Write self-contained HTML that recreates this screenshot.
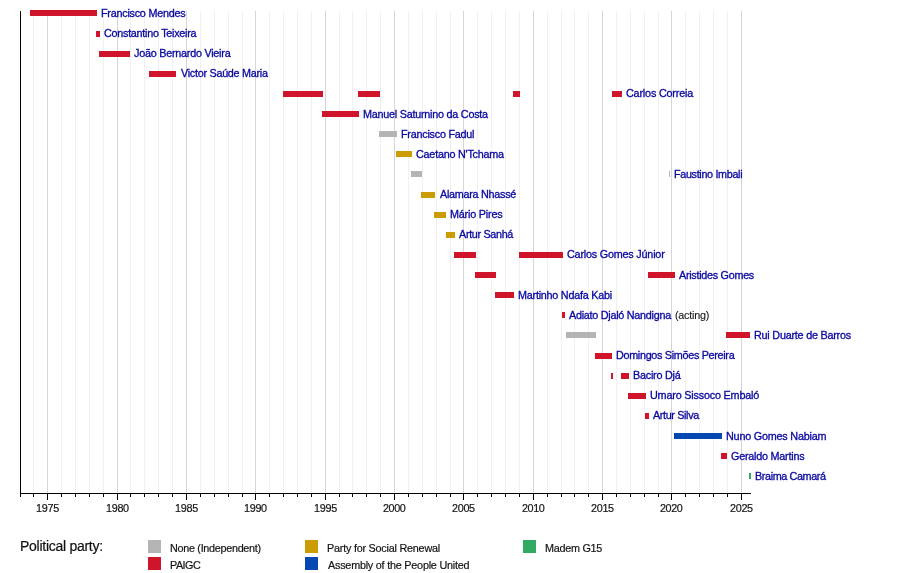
<!DOCTYPE html>
<html><head><meta charset="utf-8"><title>Timeline</title>
<style>
html,body{margin:0;padding:0;background:#fff;}
.t,.y,.l,.a{will-change:transform;}
body{width:900px;height:573px;position:relative;overflow:hidden;font-family:"Liberation Sans",sans-serif;}
.g{position:absolute;top:11px;height:482px;width:1px;background:#f0f0f0;}
.G{position:absolute;top:11px;height:482px;width:1px;background:#d6d6d6;}
.b{position:absolute;height:6px;}
.t{position:absolute;white-space:pre;font-size:10.8px;line-height:12px;height:12px;color:#0a08a0;-webkit-text-stroke:0.32px #0a08a0;}
.a{position:absolute;white-space:pre;font-size:10.8px;line-height:12px;height:12px;color:#141414;-webkit-text-stroke:0.1px #141414;}
.k{position:absolute;top:493px;width:1px;background:#000;}
.y{position:absolute;top:502px;white-space:pre;font-size:10.8px;line-height:12px;color:#141414;-webkit-text-stroke:0.2px #141414;}
.l{position:absolute;white-space:pre;font-size:10.8px;line-height:12px;color:#141414;-webkit-text-stroke:0.2px #141414;}
.s{position:absolute;width:13px;height:13px;}
</style></head><body>

<div class="g" style="left:33px"></div>
<div class="G" style="left:47px"></div>
<div class="g" style="left:61px"></div>
<div class="g" style="left:75px"></div>
<div class="g" style="left:89px"></div>
<div class="g" style="left:103px"></div>
<div class="G" style="left:117px"></div>
<div class="g" style="left:130px"></div>
<div class="g" style="left:144px"></div>
<div class="g" style="left:158px"></div>
<div class="g" style="left:172px"></div>
<div class="G" style="left:186px"></div>
<div class="g" style="left:200px"></div>
<div class="g" style="left:214px"></div>
<div class="g" style="left:228px"></div>
<div class="g" style="left:242px"></div>
<div class="G" style="left:255px"></div>
<div class="g" style="left:269px"></div>
<div class="g" style="left:283px"></div>
<div class="g" style="left:297px"></div>
<div class="g" style="left:311px"></div>
<div class="G" style="left:325px"></div>
<div class="g" style="left:339px"></div>
<div class="g" style="left:352px"></div>
<div class="g" style="left:366px"></div>
<div class="g" style="left:380px"></div>
<div class="G" style="left:394px"></div>
<div class="g" style="left:408px"></div>
<div class="g" style="left:422px"></div>
<div class="g" style="left:436px"></div>
<div class="g" style="left:450px"></div>
<div class="G" style="left:463px"></div>
<div class="g" style="left:477px"></div>
<div class="g" style="left:491px"></div>
<div class="g" style="left:505px"></div>
<div class="g" style="left:519px"></div>
<div class="G" style="left:533px"></div>
<div class="g" style="left:547px"></div>
<div class="g" style="left:561px"></div>
<div class="g" style="left:574px"></div>
<div class="g" style="left:588px"></div>
<div class="G" style="left:602px"></div>
<div class="g" style="left:616px"></div>
<div class="g" style="left:630px"></div>
<div class="g" style="left:644px"></div>
<div class="g" style="left:658px"></div>
<div class="G" style="left:671px"></div>
<div class="g" style="left:685px"></div>
<div class="g" style="left:699px"></div>
<div class="g" style="left:713px"></div>
<div class="g" style="left:727px"></div>
<div class="G" style="left:741px"></div>
<div class="b" style="left:30px;top:10px;width:67px;background:#cf142b"></div>
<div class="t" style="left:100.95px;top:7px;letter-spacing:-0.24px">Francisco Mendes</div>
<div class="b" style="left:96.2px;top:31px;width:3.8px;background:#cf142b"></div>
<div class="t" style="left:104.0px;top:27px;letter-spacing:-0.266px">Constantino Teixeira</div>
<div class="b" style="left:99px;top:51px;width:31px;background:#cf142b"></div>
<div class="t" style="left:133.75px;top:47px;letter-spacing:-0.242px">João Bernardo Vieira</div>
<div class="b" style="left:149px;top:71px;width:27px;background:#cf142b"></div>
<div class="t" style="left:180.7px;top:67px;letter-spacing:-0.274px">Victor Saúde Maria</div>
<div class="b" style="left:283px;top:91px;width:40px;background:#cf142b"></div>
<div class="b" style="left:358px;top:91px;width:22px;background:#cf142b"></div>
<div class="b" style="left:513px;top:91px;width:7px;background:#cf142b"></div>
<div class="b" style="left:612px;top:91px;width:10px;background:#cf142b"></div>
<div class="t" style="left:625.5px;top:87px;letter-spacing:-0.181px">Carlos Correia</div>
<div class="b" style="left:322px;top:111px;width:37px;background:#cf142b"></div>
<div class="t" style="left:362.55px;top:108px;letter-spacing:-0.24px">Manuel Saturnino da Costa</div>
<div class="b" style="left:379px;top:131px;width:18px;background:#b4b4b4"></div>
<div class="t" style="left:401.05px;top:128px;letter-spacing:-0.236px">Francisco Fadul</div>
<div class="b" style="left:396px;top:151px;width:16px;background:#cb9c04"></div>
<div class="t" style="left:415.7px;top:148px;letter-spacing:-0.227px">Caetano N'Tchama</div>
<div class="b" style="left:411px;top:171px;width:11px;background:#b4b4b4"></div>
<div class="b" style="left:669px;top:171px;width:1px;background:#b4b4b4"></div>
<div class="t" style="left:673.95px;top:168px;letter-spacing:-0.332px">Faustino Imbali</div>
<div class="b" style="left:421px;top:192px;width:14px;background:#cb9c04"></div>
<div class="t" style="left:439.6px;top:188px;letter-spacing:-0.269px">Alamara Nhassé</div>
<div class="b" style="left:434px;top:212px;width:12px;background:#cb9c04"></div>
<div class="t" style="left:449.95px;top:208px;letter-spacing:-0.2px">Mário Pires</div>
<div class="b" style="left:446px;top:232px;width:9px;background:#cb9c04"></div>
<div class="t" style="left:459.3px;top:228px;letter-spacing:-0.325px">Artur Sanhá</div>
<div class="b" style="left:454px;top:252px;width:22px;background:#cf142b"></div>
<div class="b" style="left:519px;top:252px;width:44px;background:#cf142b"></div>
<div class="t" style="left:566.8px;top:248px;letter-spacing:-0.203px">Carlos Gomes Júnior</div>
<div class="b" style="left:475px;top:272px;width:21px;background:#cf142b"></div>
<div class="b" style="left:648px;top:272px;width:27px;background:#cf142b"></div>
<div class="t" style="left:679.2px;top:269px;letter-spacing:-0.282px">Aristides Gomes</div>
<div class="b" style="left:495px;top:292px;width:19px;background:#cf142b"></div>
<div class="t" style="left:517.65px;top:289px;letter-spacing:-0.239px">Martinho Ndafa Kabi</div>
<div class="b" style="left:562.2px;top:312px;width:2.8px;background:#cf142b"></div>
<div class="t" style="left:569.3px;top:309px;letter-spacing:-0.26px">Adiato Djaló Nandigna</div>
<div class="a" style="left:675.1px;top:309px;letter-spacing:-0.243px">(acting)</div>
<div class="b" style="left:566px;top:332px;width:30px;background:#b4b4b4"></div>
<div class="b" style="left:726px;top:332px;width:24px;background:#cf142b"></div>
<div class="t" style="left:753.95px;top:329px;letter-spacing:-0.224px">Rui Duarte de Barros</div>
<div class="b" style="left:595px;top:353px;width:17px;background:#cf142b"></div>
<div class="t" style="left:615.95px;top:349px;letter-spacing:-0.307px">Domingos Simões Pereira</div>
<div class="b" style="left:611.2px;top:373px;width:1.6px;background:#cf142b"></div>
<div class="b" style="left:621px;top:373px;width:8px;background:#cf142b"></div>
<div class="t" style="left:632.95px;top:369px;letter-spacing:-0.239px">Baciro Djá</div>
<div class="b" style="left:628px;top:393px;width:18px;background:#cf142b"></div>
<div class="t" style="left:649.75px;top:389px;letter-spacing:-0.187px">Umaro Sissoco Embaló</div>
<div class="b" style="left:645px;top:413px;width:4px;background:#cf142b"></div>
<div class="t" style="left:653.3px;top:409px;letter-spacing:-0.36px">Artur Silva</div>
<div class="b" style="left:674px;top:433px;width:48px;background:#0548b2"></div>
<div class="t" style="left:725.75px;top:430px;letter-spacing:-0.206px">Nuno Gomes Nabiam</div>
<div class="b" style="left:721px;top:453px;width:6px;background:#cf142b"></div>
<div class="t" style="left:730.7px;top:450px;letter-spacing:-0.229px">Geraldo Martins</div>
<div class="b" style="left:748.8px;top:473px;width:2.0px;background:#32aa64"></div>
<div class="t" style="left:754.55px;top:470px;letter-spacing:-0.383px">Braima Camará</div>
<div style="position:absolute;left:20px;top:11px;width:1px;height:483px;background:#000"></div>
<div style="position:absolute;left:20px;top:493px;width:731px;height:1px;background:#000"></div>
<div class="k" style="left:20px;height:4px"></div>
<div class="k" style="left:33px;height:4px"></div>
<div class="k" style="left:47px;height:7px"></div>
<div class="k" style="left:61px;height:4px"></div>
<div class="k" style="left:75px;height:4px"></div>
<div class="k" style="left:89px;height:4px"></div>
<div class="k" style="left:103px;height:4px"></div>
<div class="k" style="left:117px;height:7px"></div>
<div class="k" style="left:130px;height:4px"></div>
<div class="k" style="left:144px;height:4px"></div>
<div class="k" style="left:158px;height:4px"></div>
<div class="k" style="left:172px;height:4px"></div>
<div class="k" style="left:186px;height:7px"></div>
<div class="k" style="left:200px;height:4px"></div>
<div class="k" style="left:214px;height:4px"></div>
<div class="k" style="left:228px;height:4px"></div>
<div class="k" style="left:242px;height:4px"></div>
<div class="k" style="left:255px;height:7px"></div>
<div class="k" style="left:269px;height:4px"></div>
<div class="k" style="left:283px;height:4px"></div>
<div class="k" style="left:297px;height:4px"></div>
<div class="k" style="left:311px;height:4px"></div>
<div class="k" style="left:325px;height:7px"></div>
<div class="k" style="left:339px;height:4px"></div>
<div class="k" style="left:352px;height:4px"></div>
<div class="k" style="left:366px;height:4px"></div>
<div class="k" style="left:380px;height:4px"></div>
<div class="k" style="left:394px;height:7px"></div>
<div class="k" style="left:408px;height:4px"></div>
<div class="k" style="left:422px;height:4px"></div>
<div class="k" style="left:436px;height:4px"></div>
<div class="k" style="left:450px;height:4px"></div>
<div class="k" style="left:463px;height:7px"></div>
<div class="k" style="left:477px;height:4px"></div>
<div class="k" style="left:491px;height:4px"></div>
<div class="k" style="left:505px;height:4px"></div>
<div class="k" style="left:519px;height:4px"></div>
<div class="k" style="left:533px;height:7px"></div>
<div class="k" style="left:547px;height:4px"></div>
<div class="k" style="left:561px;height:4px"></div>
<div class="k" style="left:574px;height:4px"></div>
<div class="k" style="left:588px;height:4px"></div>
<div class="k" style="left:602px;height:7px"></div>
<div class="k" style="left:616px;height:4px"></div>
<div class="k" style="left:630px;height:4px"></div>
<div class="k" style="left:644px;height:4px"></div>
<div class="k" style="left:658px;height:4px"></div>
<div class="k" style="left:671px;height:7px"></div>
<div class="k" style="left:685px;height:4px"></div>
<div class="k" style="left:699px;height:4px"></div>
<div class="k" style="left:713px;height:4px"></div>
<div class="k" style="left:727px;height:4px"></div>
<div class="k" style="left:741px;height:7px"></div>
<div class="y" style="left:36.05px;letter-spacing:-0.217px">1975</div>
<div class="y" style="left:106.05px;letter-spacing:-0.3px">1980</div>
<div class="y" style="left:175.05px;letter-spacing:-0.217px">1985</div>
<div class="y" style="left:244.05px;letter-spacing:-0.3px">1990</div>
<div class="y" style="left:314.05px;letter-spacing:-0.217px">1995</div>
<div class="y" style="left:383.3px;letter-spacing:-0.383px">2000</div>
<div class="y" style="left:452.3px;letter-spacing:-0.3px">2005</div>
<div class="y" style="left:522.3px;letter-spacing:-0.383px">2010</div>
<div class="y" style="left:591.3px;letter-spacing:-0.3px">2015</div>
<div class="y" style="left:660.3px;letter-spacing:-0.383px">2020</div>
<div class="y" style="left:730.3px;letter-spacing:-0.3px">2025</div>
<div class="l" style="left:19.6px;top:538px;font-size:14px;letter-spacing:-0.27px;line-height:16px;color:#111;-webkit-text-stroke:0.2px #111">Political party:</div>
<div class="s" style="left:148px;top:540px;background:#b4b4b4"></div>
<div class="l" style="left:169.75px;top:542px;letter-spacing:-0.291px">None (Independent)</div>
<div class="s" style="left:148px;top:557px;background:#cf142b"></div>
<div class="l" style="left:169.75px;top:559px;letter-spacing:-0.5px">PAIGC</div>
<div class="s" style="left:305px;top:540px;background:#cb9c04"></div>
<div class="l" style="left:326.75px;top:542px;letter-spacing:-0.22px">Party for Social Renewal</div>
<div class="s" style="left:305px;top:557px;background:#0548b2"></div>
<div class="l" style="left:327.5px;top:559px;letter-spacing:-0.218px">Assembly of the People United</div>
<div class="s" style="left:523px;top:540px;background:#32aa64"></div>
<div class="l" style="left:544.85px;top:542px;letter-spacing:-0.256px">Madem G15</div>
</body></html>
